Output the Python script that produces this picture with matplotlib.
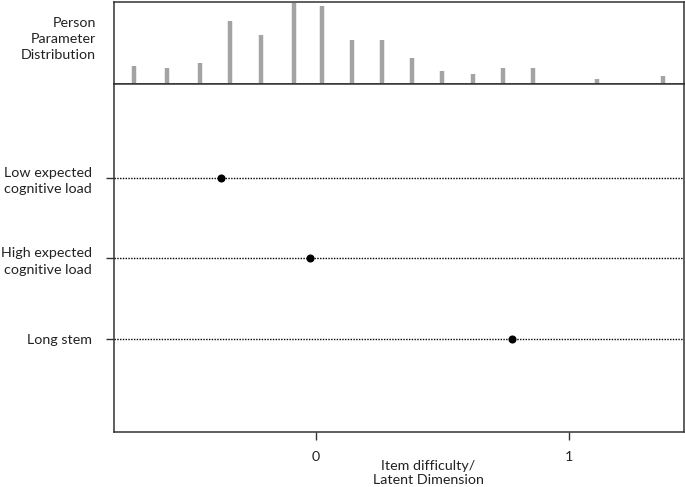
import matplotlib
matplotlib.use("Agg")
import matplotlib.pyplot as plt

# Data
item_names = ["Low expected\ncognitive load", "High expected\ncognitive load", "Long stem"]
item_difficulty = [-0.375, -0.024, 0.776]

person_theta = [-0.718, -0.590, -0.458, -0.339, -0.219, -0.087, 0.023, 0.141,
                0.260, 0.381, 0.499, 0.622, 0.740, 0.859, 1.112, 1.370]
person_count = [7, 6, 8, 24, 19, 31, 30, 17, 17, 10, 5, 4, 6, 6, 2, 3]

x_ticks = [0, 1]
x_ticklabels = ["0", "1"]

plt.rcParams['font.family'] = ['Lato', 'DejaVu Sans']

W, H = 685, 487
fig = plt.figure(figsize=(W / 100, H / 100), dpi=100)

left = 113.5 / W
width = 570 / W
ax_top = fig.add_axes([left, 1 - 84 / H, width, (84 - 1.7) / H])
ax = fig.add_axes([left, 1 - 432.3 / H, width, (432.3 - 84) / H])

xlim = (-0.801, 1.453)
edge = "#333333"
tc = "#222222"
fs = 10.3

# Top panel: person parameter distribution
ax_top.vlines(person_theta, 0, person_count, color="#a3a3a3", linewidth=3.2)
ax_top.set_xlim(xlim)
ax_top.set_ylim(0, 31.6)
ax_top.set_yticks([])
ax_top.set_xticks(item_difficulty)
ax_top.set_xticklabels([])
ax_top.tick_params(axis='x', direction='out', length=5.5, width=1, color=edge)
for s in ax_top.spines.values():
    s.set_color(edge)
    s.set_linewidth(1.1)
fig.text(96 / W, 1 - 39 / H, "Person\nParameter\nDistribution", ha='right', va='center',
         fontsize=fs, linespacing=1.4, color=tc, multialignment='right')

# Bottom panel: items
ypos = list(range(1, len(item_names) + 1))
for y in ypos:
    ax.axhline(y, color="black", linestyle=(0, (1, 1)), linewidth=1.0)
ax.plot(item_difficulty, ypos, 'o', color='black', markersize=4.8, zorder=3)
ax.set_xlim(xlim)
ax.set_ylim(4.16, -0.16)
ax.set_yticks(ypos)
ax.set_yticklabels(item_names, fontsize=fs, linespacing=1.45, color=tc,
                   multialignment='right')
ax.set_xticks(x_ticks)
ax.set_xticklabels(x_ticklabels, fontsize=fs, color=tc)
ax.tick_params(axis='y', direction='out', length=5.5, width=1, color=edge, pad=10)
ax.tick_params(axis='x', direction='out', length=5.5, width=1, color=edge, pad=8)
for s in ax.spines.values():
    s.set_color(edge)
    s.set_linewidth(1.1)

fig.text(428 / W, 1 - 473 / H, "Item difficulty/\nLatent Dimension", ha='center', va='center',
         fontsize=fs, linespacing=1.2, color=tc)

fig.savefig("out.png", dpi=100)
